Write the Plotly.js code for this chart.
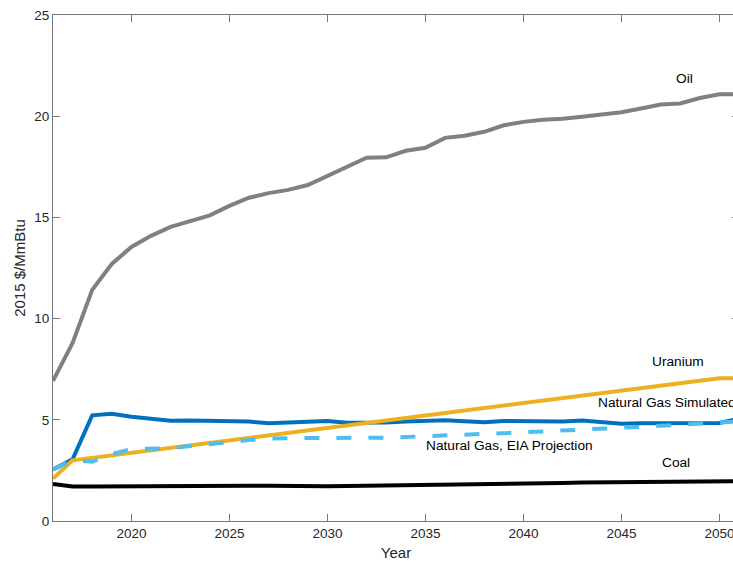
<!DOCTYPE html>
<html>
<head>
<meta charset="utf-8">
<script src="https://cdn.plot.ly/plotly-3.0.1.min.js"></script>
<style>
html, body { margin: 0; padding: 0; overflow: hidden; background: #fff; }
#chart { width: 750px; height: 561px; }
</style>
</head>
<body>
<div id="chart"></div>
<script>
const years = [2016, 2017, 2018, 2019, 2020, 2021, 2022, 2023, 2024, 2025, 2026, 2027, 2028, 2029, 2030, 2031, 2032, 2033,
               2034, 2035, 2036, 2037, 2038, 2039, 2040, 2041, 2042, 2043, 2044, 2045, 2046, 2047, 2048, 2049, 2050, 2051];
const oil = [6.92, 8.8, 11.42, 12.7, 13.54, 14.09, 14.53, 14.83, 15.1, 15.57, 15.97, 16.2, 16.36, 16.6, 17.05, 17.45, 17.95, 17.97,
             18.29, 18.44, 18.93, 19.03, 19.23, 19.55, 19.72, 19.82, 19.87, 19.97, 20.08, 20.2, 20.38, 20.58, 20.63, 20.9, 21.08, 21.09];
const coal = [1.83, 1.7, 1.7, 1.71, 1.72, 1.73, 1.75, 1.75, 1.75, 1.75, 1.74, 1.74, 1.72, 1.7, 1.72, 1.73, 1.74, 1.76,
              1.78, 1.8, 1.82, 1.83, 1.84, 1.85, 1.86, 1.87, 1.88, 1.9, 1.91, 1.92, 1.93, 1.94, 1.94, 1.95, 1.96, 1.97];
const gasSim = [2.55, 3.05, 5.22, 5.3, 5.15, 5.05, 4.95, 4.97, 4.96, 4.93, 4.91, 4.83, 4.88, 4.93, 4.94, 4.86, 4.85, 4.87,
                4.92, 4.97, 4.98, 4.93, 4.88, 4.94, 4.92, 4.91, 4.91, 4.96, 4.86, 4.8, 4.83, 4.83, 4.85, 4.85, 4.84, 5.05];
const gasEIA = [2.55, 3.0, 2.93, 3.3, 3.55, 3.57, 3.6, 3.7, 3.8, 3.93, 4.0, 4.07, 4.1, 4.1, 4.1, 4.1, 4.1, 4.12,
                4.15, 4.18, 4.22, 4.26, 4.3, 4.34, 4.38, 4.42, 4.46, 4.5, 4.55, 4.6, 4.65, 4.7, 4.76, 4.82, 4.87, 4.92];
const uraniumYears = [2016, 2017, 2050, 2051];
const uranium = [2.1, 3.0, 7.05, 7.05];
const xTicks = [2020, 2025, 2030, 2035, 2040, 2045, 2050];
const yTicks = [0, 5, 10, 15, 20, 25];
const seriesLabels = ['Oil', 'Uranium', 'Natural Gas Simulated', 'Natural Gas, EIA Projection', 'Coal'];

const FONT = 'Liberation Sans, Arial, Helvetica, sans-serif';
const traces = [
  {x: years, y: oil, name: seriesLabels[0], mode: 'lines', line: {color: '#808080', width: 4}},
  {x: years, y: coal, name: seriesLabels[4], mode: 'lines', line: {color: '#000000', width: 4}},
  {x: years, y: gasSim, name: seriesLabels[2], mode: 'lines', line: {color: '#0072BD', width: 4}},
  {x: uraniumYears, y: uranium, name: seriesLabels[1], mode: 'lines', line: {color: '#EDB120', width: 4}},
  {x: years, y: gasEIA, name: seriesLabels[3], mode: 'lines', line: {color: '#4DBEEE', width: 4, dash: '15px,17px'}}
];

const annFont = {family: FONT, size: 13.7, color: '#000'};
const layout = {
  width: 750, height: 561,
  margin: {l: 53, r: 11, t: 15, b: 40},
  paper_bgcolor: '#fff', plot_bgcolor: '#fff',
  showlegend: false,
  font: {family: FONT, color: '#262626', size: 13.5},
  xaxis: {
    range: [2016, 2051], tickvals: xTicks, ticktext: xTicks.map(String),
    showgrid: false, zeroline: false, showline: true, linecolor: '#777', linewidth: 1,
    mirror: 'ticks', ticks: 'inside', ticklen: 7, tickcolor: '#777', tickwidth: 1,
    tickfont: {family: FONT, size: 13.5, color: '#262626'},
    title: {text: 'Year', font: {family: FONT, size: 15, color: '#262626'}, standoff: 8}
  },
  yaxis: {
    range: [0, 25], tickvals: yTicks, ticktext: yTicks.map(String),
    showgrid: false, zeroline: false, showline: true, linecolor: '#777', linewidth: 1,
    mirror: 'ticks', ticks: 'inside', ticklen: 7, tickcolor: '#777', tickwidth: 1,
    tickfont: {family: FONT, size: 13.5, color: '#262626'},
    title: {text: '2015 $/MmBtu', font: {family: FONT, size: 15, color: '#262626'}, standoff: 5}
  },
  annotations: [
    {x: 2048.24, y: 21.87, text: seriesLabels[0], showarrow: false, xanchor: 'center', yanchor: 'middle', font: annFont},
    {x: 2047.89, y: 7.86, text: seriesLabels[1], showarrow: false, xanchor: 'center', yanchor: 'middle', font: annFont},
    {x: 2043.7, y: 5.85, text: seriesLabels[2], showarrow: false, xanchor: 'left', yanchor: 'middle', font: annFont},
    {x: 2034.94, y: 3.75, text: seriesLabels[3], showarrow: false, xanchor: 'left', yanchor: 'middle', font: annFont},
    {x: 2046.97, y: 2.9, text: seriesLabels[4], showarrow: false, xanchor: 'left', yanchor: 'middle', font: annFont}
  ]
};
Plotly.newPlot('chart', traces, layout, {displayModeBar: false, staticPlot: true});
</script>
</body>
</html>
